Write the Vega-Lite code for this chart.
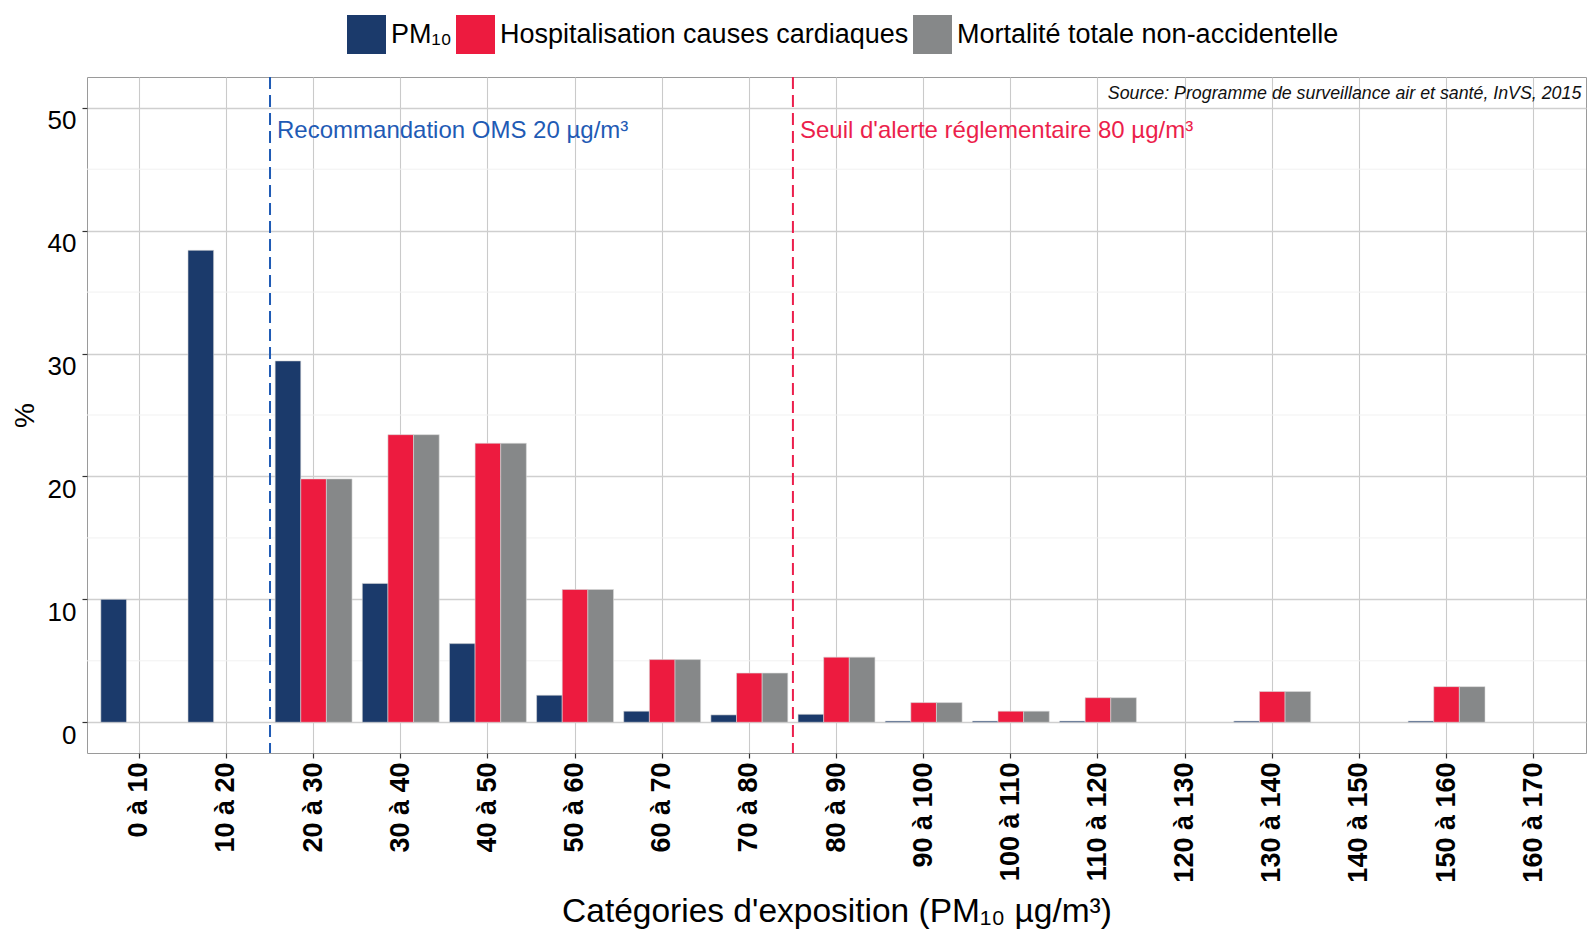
{
  "$schema": "https://vega.github.io/schema/vega-lite/v6.json",
  "autosize": {"type": "none"},
  "padding": {"left": 87, "top": 77, "right": 1, "bottom": 182},
  "width": 1499,
  "height": 676,
  "config": {
    "font": "Liberation Sans",
    "view": {"stroke": "#9a9a9a", "strokeWidth": 1}
  },
  "datasets": {
    "bars": [
      {"cat": "0 à 10", "series": "PM₁₀", "pct": 10.0},
      {"cat": "10 à 20", "series": "PM₁₀", "pct": 38.4},
      {"cat": "20 à 30", "series": "PM₁₀", "pct": 29.4},
      {"cat": "30 à 40", "series": "PM₁₀", "pct": 11.3},
      {"cat": "40 à 50", "series": "PM₁₀", "pct": 6.4},
      {"cat": "50 à 60", "series": "PM₁₀", "pct": 2.2},
      {"cat": "60 à 70", "series": "PM₁₀", "pct": 0.9},
      {"cat": "70 à 80", "series": "PM₁₀", "pct": 0.6},
      {"cat": "80 à 90", "series": "PM₁₀", "pct": 0.65},
      {"cat": "90 à 100", "series": "PM₁₀", "pct": 0.1},
      {"cat": "100 à 110", "series": "PM₁₀", "pct": 0.1},
      {"cat": "110 à 120", "series": "PM₁₀", "pct": 0.1},
      {"cat": "130 à 140", "series": "PM₁₀", "pct": 0.1},
      {"cat": "150 à 160", "series": "PM₁₀", "pct": 0.1},
      {"cat": "20 à 30", "series": "Hospitalisation causes cardiaques", "pct": 19.8},
      {"cat": "30 à 40", "series": "Hospitalisation causes cardiaques", "pct": 23.4},
      {"cat": "40 à 50", "series": "Hospitalisation causes cardiaques", "pct": 22.7},
      {"cat": "50 à 60", "series": "Hospitalisation causes cardiaques", "pct": 10.8},
      {"cat": "60 à 70", "series": "Hospitalisation causes cardiaques", "pct": 5.1},
      {"cat": "70 à 80", "series": "Hospitalisation causes cardiaques", "pct": 4.0},
      {"cat": "80 à 90", "series": "Hospitalisation causes cardiaques", "pct": 5.3},
      {"cat": "90 à 100", "series": "Hospitalisation causes cardiaques", "pct": 1.6},
      {"cat": "100 à 110", "series": "Hospitalisation causes cardiaques", "pct": 0.9},
      {"cat": "110 à 120", "series": "Hospitalisation causes cardiaques", "pct": 2.0},
      {"cat": "130 à 140", "series": "Hospitalisation causes cardiaques", "pct": 2.5},
      {"cat": "150 à 160", "series": "Hospitalisation causes cardiaques", "pct": 2.9},
      {"cat": "20 à 30", "series": "Mortalité totale non-accidentelle", "pct": 19.8},
      {"cat": "30 à 40", "series": "Mortalité totale non-accidentelle", "pct": 23.4},
      {"cat": "40 à 50", "series": "Mortalité totale non-accidentelle", "pct": 22.7},
      {"cat": "50 à 60", "series": "Mortalité totale non-accidentelle", "pct": 10.8},
      {"cat": "60 à 70", "series": "Mortalité totale non-accidentelle", "pct": 5.1},
      {"cat": "70 à 80", "series": "Mortalité totale non-accidentelle", "pct": 4.0},
      {"cat": "80 à 90", "series": "Mortalité totale non-accidentelle", "pct": 5.3},
      {"cat": "90 à 100", "series": "Mortalité totale non-accidentelle", "pct": 1.6},
      {"cat": "100 à 110", "series": "Mortalité totale non-accidentelle", "pct": 0.9},
      {"cat": "110 à 120", "series": "Mortalité totale non-accidentelle", "pct": 2.0},
      {"cat": "130 à 140", "series": "Mortalité totale non-accidentelle", "pct": 2.5},
      {"cat": "150 à 160", "series": "Mortalité totale non-accidentelle", "pct": 2.9}
    ],
    "minor": [{"v": 5}, {"v": 15}, {"v": 25}, {"v": 35}, {"v": 45}],
    "refs": [
      {"cat": "10 à 20", "kind": "oms", "label": "Recommandation OMS 20 µg/m³"},
      {"cat": "70 à 80", "kind": "alerte", "label": "Seuil d'alerte réglementaire 80 µg/m³"}
    ],
    "source": [{"cat": "160 à 170", "label": "Source: Programme de surveillance air et santé, InVS, 2015"}]
  },
  "layer": [
    {
      "data": {"name": "minor"},
      "mark": {"type": "rule", "color": "#f1f1f1", "strokeWidth": 1},
      "encoding": {
        "y": {"field": "v", "type": "quantitative", "scale": {"domain": [-2.5, 52.5], "nice": false, "zero": false}}
      }
    },
    {
      "data": {"name": "bars"},
      "mark": {"type": "bar", "stroke": "#d8d8d8", "strokeWidth": 0.6},
      "encoding": {
        "x": {
          "field": "cat", "type": "nominal",
          "scale": {
            "domain": ["0 à 10", "10 à 20", "20 à 30", "30 à 40", "40 à 50", "50 à 60", "60 à 70", "70 à 80", "80 à 90", "90 à 100", "100 à 110", "110 à 120", "120 à 130", "130 à 140", "140 à 150", "150 à 160", "160 à 170"],
            "paddingInner": 0, "paddingOuter": 0.1
          },
          "axis": {
            "title": "Catégories d'exposition (PM₁₀ µg/m³)",
            "titleFontSize": 33.5, "titleFontWeight": "normal", "titleColor": "#000000", "titlePadding": 13,
            "labelAngle": -90, "labelFontSize": 27, "labelFontWeight": "bold", "labelColor": "#000000",
            "labelPadding": 4, "tickSize": 5, "tickColor": "#333333", "tickWidth": 1.2,
            "bandPosition": 0.5, "grid": true, "gridColor": "#cacaca", "gridWidth": 1.1,
            "domain": false, "labelOverlap": false
          }
        },
        "xOffset": {
          "field": "series", "type": "nominal",
          "scale": {"domain": ["PM₁₀", "Hospitalisation causes cardiaques", "Mortalité totale non-accidentelle"], "paddingInner": 0, "paddingOuter": 0.2}
        },
        "y": {
          "field": "pct", "type": "quantitative", "stack": null,
          "scale": {"domain": [-2.5, 52.5], "nice": false, "zero": false},
          "axis": {
            "title": "%", "titleFontSize": 28, "titleFontWeight": "normal", "titleColor": "#000000", "titlePadding": 8,
            "values": [0, 10, 20, 30, 40, 50], "labelFontSize": 26, "labelColor": "#000000",
            "labelBaseline": "top", "labelPadding": 6, "tickSize": 5, "tickColor": "#333333", "tickWidth": 1.2,
            "grid": true, "gridColor": "#cfcfcf", "gridWidth": 1.3, "domain": false
          }
        },
        "y2": {"datum": 0},
        "color": {
          "field": "series", "type": "nominal",
          "scale": {"domain": ["PM₁₀", "Hospitalisation causes cardiaques", "Mortalité totale non-accidentelle"], "range": ["#1b3a6b", "#ed1b3f", "#868889"]},
          "legend": {
            "title": null, "orient": "none", "direction": "horizontal", "legendX": 260, "legendY": -62,
            "symbolType": "square", "symbolSize": 1521, "symbolStrokeWidth": 0, "symbolOpacity": 1,
            "labelFontSize": 27, "labelColor": "#000000", "labelOffset": 5, "columnPadding": 4, "labelLimit": 600
          }
        }
      }
    },
    {
      "data": {"name": "refs"},
      "transform": [{"filter": "datum.kind === 'oms'"}],
      "layer": [
        {
          "mark": {"type": "rule", "color": "#1f5bb5", "strokeWidth": 2, "strokeDash": [12, 6]},
          "encoding": {"x": {"field": "cat", "type": "nominal", "bandPosition": 1}}
        },
        {
          "mark": {"type": "text", "color": "#1f5bb5", "fontSize": 24, "align": "left", "baseline": "middle", "dx": 7},
          "encoding": {
            "x": {"field": "cat", "type": "nominal", "bandPosition": 1},
            "y": {"datum": 48.1},
            "text": {"field": "label"}
          }
        }
      ]
    },
    {
      "data": {"name": "refs"},
      "transform": [{"filter": "datum.kind === 'alerte'"}],
      "layer": [
        {
          "mark": {"type": "rule", "color": "#ec1f4c", "strokeWidth": 2, "strokeDash": [12, 6]},
          "encoding": {"x": {"field": "cat", "type": "nominal", "bandPosition": 1}}
        },
        {
          "mark": {"type": "text", "color": "#ec1f4c", "fontSize": 24, "align": "left", "baseline": "middle", "dx": 7},
          "encoding": {
            "x": {"field": "cat", "type": "nominal", "bandPosition": 1},
            "y": {"datum": 48.1},
            "text": {"field": "label"}
          }
        }
      ]
    },
    {
      "data": {"name": "source"},
      "mark": {"type": "text", "color": "#111111", "fontSize": 17.8, "fontStyle": "italic", "align": "right", "baseline": "middle", "dx": 4},
      "encoding": {
        "x": {"field": "cat", "type": "nominal", "bandPosition": 1},
        "y": {"datum": 51.1},
        "text": {"field": "label"}
      }
    }
  ]
}
